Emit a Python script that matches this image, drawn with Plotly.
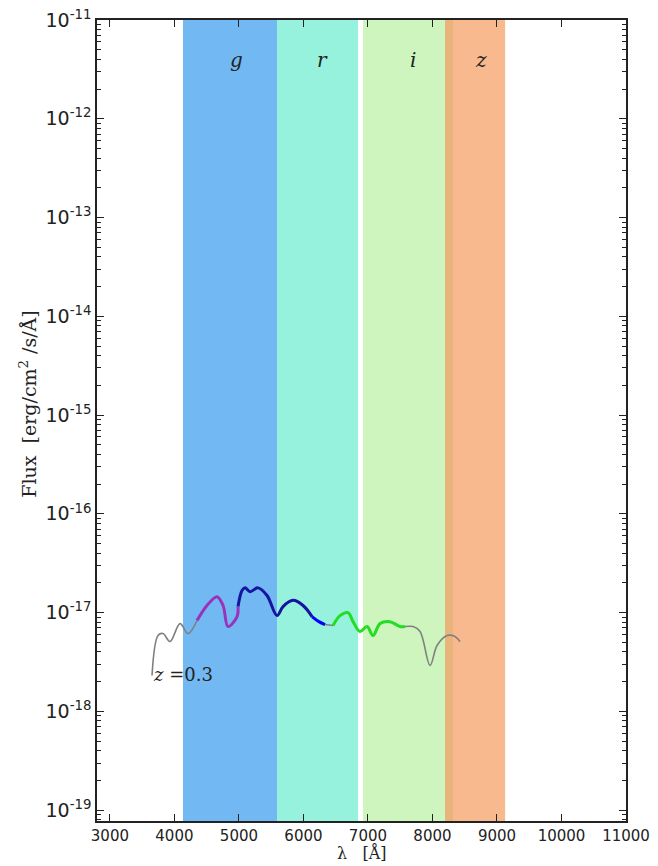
import plotly.graph_objects as go

# Filter bands (wavelength edges in Angstrom)
band_names = ["g", "r", "i", "z"]
band_start = [4133, 5591, 6924, 8195]
band_end = [5591, 6847, 8319, 9126]
band_colors = ["#72B8F2", "#96F2DD", "#CEF5BE", "#F9B98E"]
overlap_color = "#E9B47C"
band_label_x = [4955, 6290, 7700, 8755]

# Spectrum segments (wavelength, flux)
gray1_w = [3653, 3746, 3823, 3932, 4087, 4211, 4350]
gray1_f = [2.31e-18, 5.86e-18, 6.14e-18, 5.09e-18, 7.74e-18, 6.14e-18, 8.30e-18]
purple_w = [4350, 4505, 4660, 4754, 4831, 4971, 4986]
purple_f = [8.30e-18, 1.18e-17, 1.45e-17, 1.18e-17, 7.22e-18, 9.12e-18, 1.15e-17]
navy_w = [4986, 5048, 5095, 5172, 5296, 5436, 5591, 5684, 5839, 5994, 6133]
navy_f = [1.15e-17, 1.67e-17, 1.78e-17, 1.63e-17, 1.78e-17, 1.49e-17, 9.33e-18, 1.15e-17, 1.33e-17, 1.18e-17, 9.12e-18]
blue_w = [6133, 6240, 6335]
blue_f = [9.12e-18, 8.1e-18, 7.57e-18]
gray2_w = [6335, 6459]
gray2_f = [7.57e-18, 7.40e-18]
green_w = [6459, 6567, 6691, 6769, 6877, 6986, 7079, 7188, 7343, 7498, 7575]
green_f = [7.40e-18, 9.33e-18, 1.0e-17, 8.11e-18, 6.43e-18, 7.22e-18, 5.86e-18, 7.74e-18, 8.10e-18, 7.22e-18, 7.22e-18]
gray3_w = [7575, 7699, 7808, 7963, 8071, 8226, 8350, 8428]
gray3_f = [7.22e-18, 7.22e-18, 6.43e-18, 2.92e-18, 4.64e-18, 5.86e-18, 5.73e-18, 5.09e-18]

x_ticks = [3000, 4000, 5000, 6000, 7000, 8000, 9000, 10000, 11000]
y_exps = [-19, -18, -17, -16, -15, -14, -13, -12, -11]

fig = go.Figure()

shapes = []
for s, e, c in zip(band_start, band_end, band_colors):
    shapes.append(dict(type="rect", xref="x", yref="paper", x0=s, x1=e, y0=0, y1=1,
                       fillcolor=c, line=dict(width=0), layer="below"))
# overlap between i and z
shapes.append(dict(type="rect", xref="x", yref="paper", x0=band_start[3], x1=band_end[2],
                   y0=0, y1=1, fillcolor=overlap_color, line=dict(width=0), layer="below"))

segs = [
    (gray1_w, gray1_f, "#808080", 1.6),
    (purple_w, purple_f, "#9933BB", 3),
    (navy_w, navy_f, "#1515A0", 3),
    (blue_w, blue_f, "#0000FF", 3),
    (gray2_w, gray2_f, "#808080", 1.6),
    (green_w, green_f, "#22DD22", 3),
    (gray3_w, gray3_f, "#808080", 1.6),
]
for w, f, c, lw in segs:
    fig.add_trace(go.Scatter(x=w, y=f, mode="lines", line=dict(color=c, width=lw, shape="spline"),
                             showlegend=False, hoverinfo="skip"))

annotations = []
for name, lx in zip(band_names, band_label_x):
    annotations.append(dict(x=lx, y=-11.41, xref="x", yref="y", text="<i>" + name + "</i>",
                            showarrow=False, font=dict(family="DejaVu Serif", size=20, color="#222222")))
annotations.append(dict(x=3630, y=-17.63, xref="x", yref="y", text="<i>z</i> =0.3", xanchor="left",
                        showarrow=False, font=dict(family="DejaVu Serif", size=18, color="#222222")))
# axis titles
annotations.append(dict(x=0.5, y=-0.04, xref="paper", yref="paper", text="λ   [Å]",
                        xanchor="center", yanchor="middle", showarrow=False,
                        font=dict(family="DejaVu Serif", size=16, color="#222222")))
annotations.append(dict(x=-0.130, y=0.52, xref="paper", yref="paper",
                        text="Flux  [erg/cm<sup>2</sup> /s/Å]", textangle=-90,
                        xanchor="center", yanchor="middle", showarrow=False,
                        font=dict(family="DejaVu Serif", size=19, color="#222222")))

fig.update_layout(
    width=658, height=866,
    margin=dict(l=97, r=32, t=20, b=45),
    plot_bgcolor="white", paper_bgcolor="white",
    shapes=shapes, annotations=annotations,
    xaxis=dict(range=[2800, 11000], tickvals=x_ticks, ticktext=[str(v) for v in x_ticks],
               ticks="inside", ticklen=7, tickcolor="#222222", showline=True, linecolor="#222222",
               linewidth=1.5, mirror="allticks", showgrid=False, zeroline=False, automargin=False,
               ticklabelstandoff=0,
               tickfont=dict(family="DejaVu Sans", size=15, color="#222222")),
    yaxis=dict(type="log", range=[-19.11, -11.0],
               tickvals=[10.0 ** e for e in y_exps],
               ticktext=["10<sup>%d</sup>" % e for e in y_exps],
               ticks="inside", ticklen=7, tickcolor="#222222", showline=True, linecolor="#222222",
               linewidth=1.5, mirror="allticks", showgrid=False, zeroline=False, automargin=False,
               minor=dict(ticks="inside", ticklen=4, tickcolor="#222222", dtick="D1", showgrid=False),
               tickfont=dict(family="DejaVu Sans", size=19, color="#222222")),
)

fig.write_html("out.html")
